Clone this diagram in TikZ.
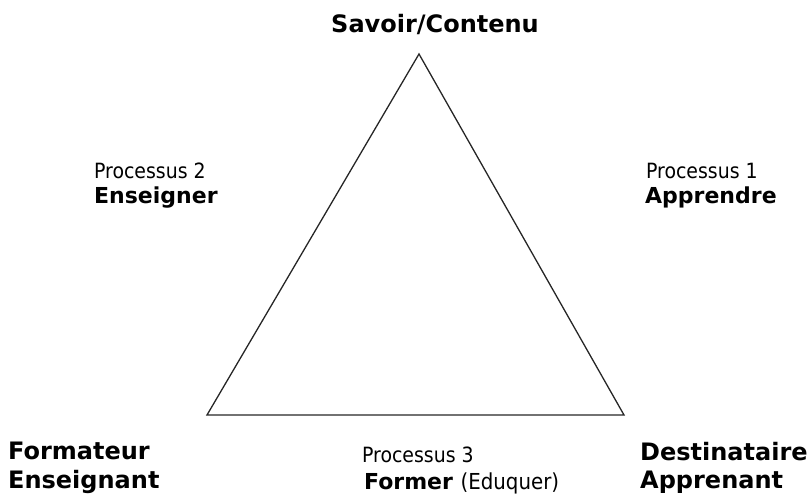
\documentclass[tikz,border=0pt]{standalone}
\usepackage{fontspec}
\setmainfont{DejaVu Sans}
\newfontfamily\regfont{DejaVu Sans Condensed}
\begin{document}
\begin{tikzpicture}[x=1pt,y=-1pt,
  lbl/.style={inner sep=0pt,anchor=base west,font=\fontsize{22}{26}\selectfont\bfseries},
  biglbl/.style={inner sep=0pt,anchor=base west,font=\fontsize{24}{28}\selectfont\bfseries},
  plain/.style={inner sep=0pt,anchor=base west,font=\fontsize{21}{25}\selectfont\regfont},
  edge/.style={draw=black!85,line width=1.3pt,line join=miter}]
\useasboundingbox (0,0) rectangle (812,497);
\coordinate (top) at (419,54);
\coordinate (bl) at (207,415);
\coordinate (br) at (624,415);
\draw[edge] (top) -- (bl) -- (br) -- cycle;
\node[biglbl,anchor=base] (savoir) at (435,33) {Savoir/Contenu};
\node[plain] (p2) at (94,179) {Processus 2};
\node[lbl] (ens) at (94,204) {Enseigner};
\node[plain] (p1) at (646,179) {Processus 1};
\node[lbl] (app) at (645,204) {Apprendre};
\node[biglbl] (form) at (8,459) {Formateur};
\node[biglbl] (ensg) at (8,488) {Enseignant};
\node[plain] (p3) at (362,462) {Processus 3};
\node[lbl] (former) at (364,489) {Former {\regfont\mdseries (Eduquer)}};
\node[biglbl] (dest) at (640,460) {Destinataire};
\node[biglbl] (appr) at (640,488) {Apprenant};
\end{tikzpicture}
\end{document}
